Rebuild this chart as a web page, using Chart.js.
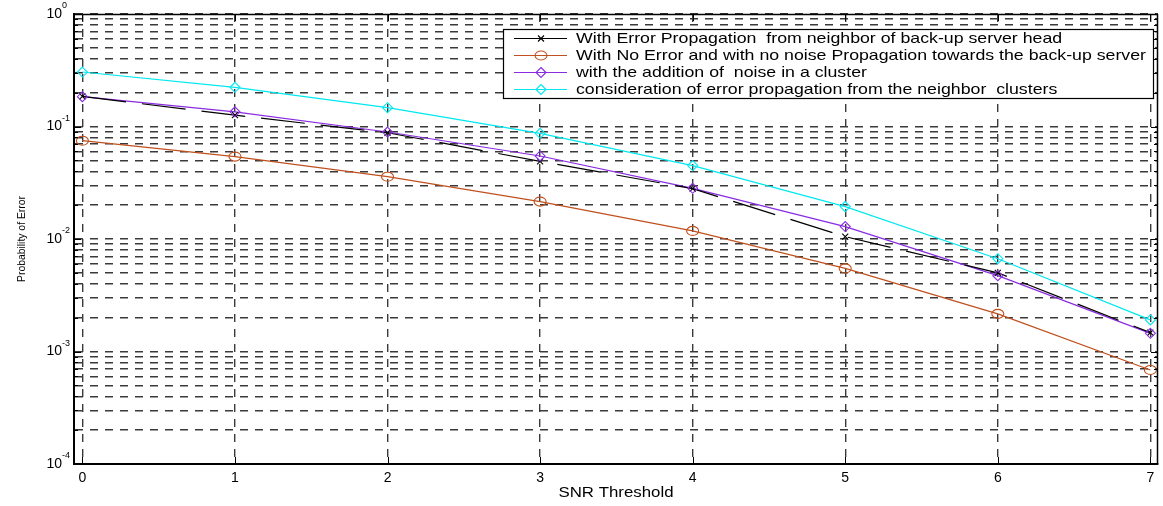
<!DOCTYPE html>
<html>
<head>
<meta charset="utf-8">
<script src="https://cdn.jsdelivr.net/npm/chart.js@4.4.1/dist/chart.umd.min.js"></script>
<style>
  html, body { margin: 0; padding: 0; background: #fff; }
  #wrap { width: 1163px; height: 506px; }
</style>
</head>
<body>
<div id="wrap"><canvas id="perr" width="1163" height="506"></canvas></div>
<script>
// values
const snr = [0, 1, 2, 3, 4, 5, 6, 7];
const withErrorProp = [0.185, 0.126, 0.088, 0.049, 0.028, 0.0105, 0.0050, 0.00147];
const noErrorNoNoise = [0.0748, 0.054, 0.0358, 0.0215, 0.0118, 0.00548, 0.00216, 0.000685];
const noiseInCluster = [0.184, 0.135, 0.0893, 0.0547, 0.0282, 0.0129, 0.00472, 0.00145];
const neighborClusters = [0.305, 0.223, 0.147, 0.087, 0.0449, 0.0194, 0.00668, 0.00191];

const seriesLabels = [
  "With Error Propagation  from neighbor of back-up server head",
  "With No Error and with no noise Propagation towards the back-up server",
  "with the addition of  noise in a cluster",
  "consideration of error propagation from the neighbor  clusters"
];
const xTicks = [0, 1, 2, 3, 4, 5, 6, 7];
const yDecades = [1e-4, 1e-3, 1e-2, 1e-1, 1];
const yDecadeExp = ["-4", "-3", "-2", "-1", "0"];
const yMinorFactors = [2, 3, 4, 5, 6, 7, 8, 9];

const FONT = "'Liberation Sans', Arial, sans-serif";

function toPoints(arr) {
  return snr.map((x, i) => ({ x: x, y: arr[i] }));
}

// all log grid positions (decades + minors)
const yTicks = [];
yDecades.forEach((d, i) => {
  yTicks.push(d);
  if (i < yDecades.length - 1) {
    yMinorFactors.forEach(f => yTicks.push(d * f));
  }
});

function drawMarker(ctx, style, x, y, r, color) {
  ctx.save();
  ctx.strokeStyle = color;
  ctx.lineWidth = 1.1;
  ctx.setLineDash([]);
  ctx.beginPath();
  if (style === "circle") {
    ctx.ellipse(x, y, r * 1.2, r * 0.9, 0, 0, Math.PI * 2);
  } else if (style === "rectRot") {
    ctx.moveTo(x, y - r);
    ctx.lineTo(x + r, y);
    ctx.lineTo(x, y + r);
    ctx.lineTo(x - r, y);
    ctx.closePath();
  } else {
    ctx.moveTo(x - r, y - r);
    ctx.lineTo(x + r, y + r);
    ctx.moveTo(x + r, y - r);
    ctx.lineTo(x - r, y + r);
  }
  ctx.stroke();
  ctx.restore();
}

function stretchedText(ctx, text, x, y, sx, align) {
  ctx.save();
  const w = ctx.measureText(text).width * sx;
  let left = x;
  if (align === "center") left = x - w / 2;
  if (align === "right") left = x - w;
  ctx.translate(left, y);
  ctx.scale(sx, 1);
  ctx.textAlign = "left";
  ctx.fillText(text, 0, 0);
  ctx.restore();
}

const matlabFrame = {
  id: "matlabFrame",
  afterDraw(chart) {
    const ctx = chart.ctx;
    const area = chart.chartArea;
    const xs = chart.scales.x;
    const ys = chart.scales.y;

    ctx.save();
    ctx.strokeStyle = "#000";
    ctx.lineWidth = 1.5;
    ctx.setLineDash([]);
    // box (top and right edge)
    ctx.beginPath();
    ctx.moveTo(area.left, area.top + 0.5);
    ctx.lineTo(area.right, area.top + 0.5);
    ctx.moveTo(area.right - 0.5, area.top);
    ctx.lineTo(area.right - 0.5, area.bottom);
    ctx.stroke();

    // inner tick marks
    ctx.lineWidth = 1;
    ctx.beginPath();
    yTicks.forEach(v => {
      const py = Math.round(ys.getPixelForValue(v)) + 0.5;
      const len = yDecades.includes(v) ? 7 : 4;
      ctx.moveTo(area.left, py); ctx.lineTo(area.left + len, py);
      ctx.moveTo(area.right, py); ctx.lineTo(area.right - len, py);
    });
    xTicks.forEach(v => {
      const px = Math.round(xs.getPixelForValue(v)) + 0.5;
      ctx.moveTo(px, area.bottom); ctx.lineTo(px, area.bottom - 7);
      ctx.moveTo(px, area.top); ctx.lineTo(px, area.top + 7);
    });
    ctx.stroke();

    // y tick labels 10^n
    ctx.fillStyle = "#000";
    ctx.textBaseline = "middle";
    yDecades.forEach((v, i) => {
      const py = ys.getPixelForValue(v);
      ctx.font = "14px " + FONT;
      ctx.textAlign = "right";
      ctx.fillText("10", 62, py);
      ctx.font = "9px " + FONT;
      ctx.textAlign = "left";
      ctx.fillText(yDecadeExp[i], 62, py - 8);
    });

    // axis titles
    ctx.font = "11px " + FONT;
    ctx.save();
    ctx.translate(22, (area.top + area.bottom) / 2);
    ctx.rotate(-Math.PI / 2);
    const yt = "Probability of Error";
    stretchedText(ctx, yt, 0, 0, 86 / ctx.measureText(yt).width, "center");
    ctx.restore();

    ctx.font = "14px " + FONT;
    const xt = "SNR Threshold";
    stretchedText(ctx, xt, (area.left + area.right) / 2, 493, 115 / ctx.measureText(xt).width, "center");

    // legend box
    const box = { left: 503, top: 29, right: 1153, bottom: 98 };
    ctx.fillStyle = "#fff";
    ctx.fillRect(box.left, box.top, box.right - box.left, box.bottom - box.top);
    ctx.strokeStyle = "#000";
    ctx.lineWidth = 1.2;
    ctx.strokeRect(box.left + 0.5, box.top + 0.5, box.right - box.left, box.bottom - box.top);

    ctx.font = "15px " + FONT;
    let widest = 0;
    seriesLabels.forEach(t => { widest = Math.max(widest, ctx.measureText(t).width); });
    const sx = 570 / widest;
    chart.data.datasets.forEach((ds, i) => {
      const ry = 38 + i * 17;
      ctx.strokeStyle = ds.borderColor;
      ctx.lineWidth = ds.borderWidth;
      ctx.beginPath();
      ctx.moveTo(514, ry + 0.5);
      ctx.lineTo(567, ry + 0.5);
      ctx.stroke();
      drawMarker(ctx, ds.pointStyle, 541, ry + 0.5, ds.pointRadius, ds.borderColor);
      ctx.fillStyle = "#000";
      ctx.textBaseline = "middle";
      stretchedText(ctx, ds.label, 576, ry + 1, sx, "left");
    });
    ctx.restore();
  }
};

// hollow markers drawn at the points chart.js positioned
const hollowMarkers = {
  id: "hollowMarkers",
  afterDatasetsDraw(chart) {
    const ctx = chart.ctx;
    chart.data.datasets.forEach((ds, i) => {
      const meta = chart.getDatasetMeta(i);
      meta.data.forEach(pt => {
        drawMarker(ctx, ds.pointStyle, pt.x, pt.y, ds.pointRadius, ds.borderColor);
      });
    });
  }
};

new Chart(document.getElementById("perr"), {
  type: "line",
  data: {
    datasets: [
      {
        label: seriesLabels[0],
        data: toPoints(withErrorProp),
        borderColor: "#000000",
        borderWidth: 1.2,
        borderDash: [44, 16],
        pointStyle: "crossRot",
        pointRadius: 3
      },
      {
        label: seriesLabels[1],
        data: toPoints(noErrorNoNoise),
        borderColor: "#c0501e",
        borderWidth: 1.2,
        pointStyle: "circle",
        pointRadius: 5
      },
      {
        label: seriesLabels[2],
        data: toPoints(noiseInCluster),
        borderColor: "#8a2be2",
        borderWidth: 1.2,
        pointStyle: "rectRot",
        pointRadius: 5
      },
      {
        label: seriesLabels[3],
        data: toPoints(neighborClusters),
        borderColor: "#00e8f0",
        borderWidth: 1.2,
        pointStyle: "rectRot",
        pointRadius: 5
      }
    ].map(ds => Object.assign(ds, {
      fill: false,
      tension: 0,
      pointHoverRadius: 0,
      pointBorderWidth: 0,
      pointBackgroundColor: "transparent",
      pointBorderColor: "transparent"
    }))
  },
  options: {
    responsive: false,
    animation: false,
    devicePixelRatio: 1,
    layout: { padding: { top: 14, right: 2, left: 0, bottom: 0 } },
    plugins: {
      legend: { display: false },
      tooltip: { enabled: false }
    },
    scales: {
      x: {
        type: "linear",
        min: -0.055,
        max: 7.05,
        afterBuildTicks: s => { s.ticks = xTicks.map(v => ({ value: v })); },
        afterFit: s => { s.height = 42; },
        grid: { color: "#3a3a3a", lineWidth: 1.4, drawTicks: false },
        border: { display: true, color: "#000", width: 2, dash: [8, 7] },
        ticks: {
          color: "#000",
          font: { family: FONT, size: 14 },
          padding: 6,
          maxRotation: 0,
          callback: v => String(v)
        }
      },
      y: {
        type: "logarithmic",
        min: 1e-4,
        max: 1,
        afterBuildTicks: s => { s.ticks = yTicks.map(v => ({ value: v })); },
        afterFit: s => { s.width = 74; },
        grid: { color: "#3a3a3a", lineWidth: 1.4, drawTicks: false },
        border: { display: true, color: "#000", width: 2, dash: [8, 7] },
        ticks: { display: false }
      }
    }
  },
  plugins: [hollowMarkers, matlabFrame]
});
</script>
</body>
</html>
